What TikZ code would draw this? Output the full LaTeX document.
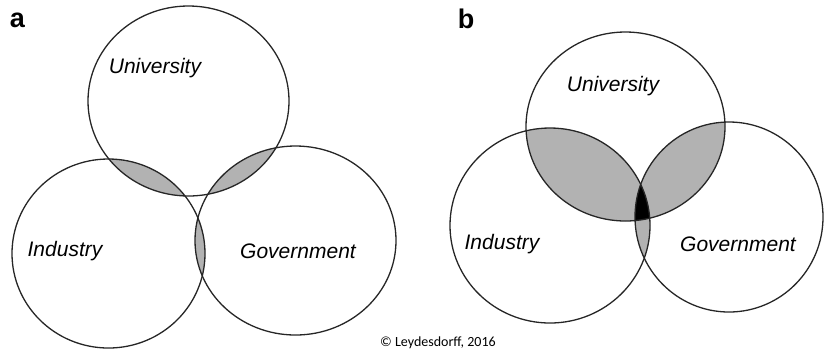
\documentclass[tikz,border=0pt]{standalone}
\usepackage{fontspec}
\setmainfont{Liberation Sans}
\newfontfamily\notefont{Carlito}

% the six rings, in pixel coordinates of the figure
\newcommand{\uniA}{(188.5,101) ellipse [x radius=50.25pt, y radius=47.5pt]}
\newcommand{\indA}{(108.5,253.5) ellipse [x radius=48.25pt, y radius=47.25pt]}
\newcommand{\govA}{(295.5,240.5) ellipse [x radius=50.25pt, y radius=47.25pt]}
\newcommand{\uniB}{(625.5,126.5) ellipse [x radius=49.75pt, y radius=47.25pt]}
\newcommand{\indB}{(550,225.5) ellipse [x radius=50pt, y radius=48.75pt]}
\newcommand{\govB}{(729,217) ellipse [x radius=47pt, y radius=47.5pt]}

\tikzset{
  ring/.style={draw=black!85, line width=0.65pt},
  lens/.style={fill=black!30},
  core/.style={fill=black},
  sector/.style={font=\itshape\fontsize{10.5}{12}\selectfont, inner sep=0pt},
  panel/.style={font=\bfseries\fontsize{13.5}{15}\selectfont, inner sep=0pt},
}

\begin{document}
\begin{tikzpicture}[x=0.5pt, y=-0.5pt]
  \useasboundingbox (0,0) rectangle (824,350);

  % panel a: pairwise overlaps only
  \begin{scope}
    \clip \uniA;
    \fill[lens] \indA;
    \fill[lens] \govA;
  \end{scope}
  \begin{scope}
    \clip \indA;
    \fill[lens] \govA;
  \end{scope}
  \draw[ring] \uniA;
  \draw[ring] \indA;
  \draw[ring] \govA;

  % panel b: pairwise overlaps and the common core
  \begin{scope}
    \clip \uniB;
    \fill[lens] \indB;
    \fill[lens] \govB;
  \end{scope}
  \begin{scope}
    \clip \indB;
    \fill[lens] \govB;
  \end{scope}
  \begin{scope}
    \clip \uniB;
    \clip \indB;
    \fill[core] \govB;
  \end{scope}
  \draw[ring] \uniB;
  \draw[ring] \indB;
  \draw[ring] \govB;

  \node[panel] (tagA) at (17.5,20) {a};
  \node[panel] (tagB) at (466,19) {b};

  \node[sector] (uniLabA) at (155,68) {University};
  \node[sector] (indLabA) at (65,251) {Industry};
  \node[sector] (govLabA) at (298,251) {Government};

  \node[sector] (uniLabB) at (613,86) {University};
  \node[sector] (indLabB) at (502,244) {Industry};
  \node[sector] (govLabB) at (738,244) {Government};

  \node[font=\notefont\fontsize{7}{8}\selectfont, inner sep=0pt] (credit) at (438,343) {© Leydesdorff, 2016};
\end{tikzpicture}
\end{document}
